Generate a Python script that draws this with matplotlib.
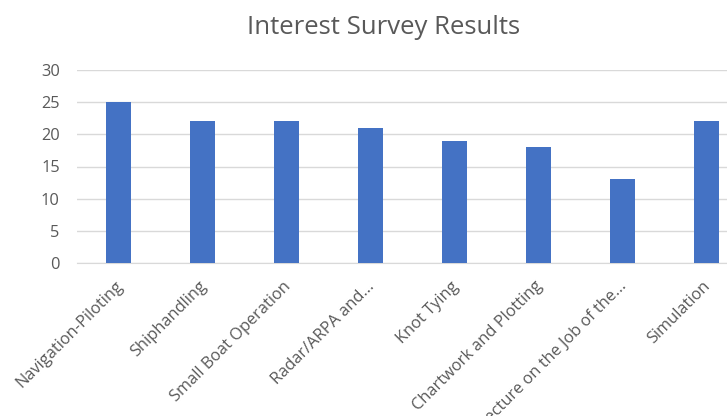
import matplotlib.pyplot as plt
import matplotlib.transforms as mtransforms
import numpy as np

categories = ["Navigation-Piloting", "Shiphandling", "Small Boat Operation",
              "Radar/ARPA and...", "Knot Tying", "Chartwork and Plotting",
              "Lecture on the Job of the...", "Simulation"]
values = [25, 22, 22, 21, 19, 18, 13, 22]
yticks = [0, 5, 10, 15, 20, 25, 30]

plt.rcParams['font.family'] = ['Open Sans', 'DejaVu Sans']

fig = plt.figure(figsize=(7.27, 4.16), dpi=100)
ax = fig.add_axes([76.5 / 727, 153 / 416, 672 / 727, 193 / 416])

x = np.arange(len(categories))
ax.bar(x, values, width=0.3, color="#4472C4", zorder=3)

ax.set_xlim(-0.5, len(categories) - 0.5)
ax.set_ylim(0, 30)
ax.set_yticks(yticks)
ax.grid(axis="y", color="#d9d9d9", linewidth=1, zorder=0)
for s in ["top", "right", "left"]:
    ax.spines[s].set_visible(False)
ax.spines["bottom"].set_color("#d9d9d9")
ax.tick_params(length=0, colors="#595959", labelsize=11.8)
ax.tick_params(axis="y", pad=12)
ax.tick_params(axis="x", pad=11)
ax.set_xticks(x)
ax.set_xticklabels(categories, rotation=45, ha="right", va="top", rotation_mode="anchor")
shift = mtransforms.ScaledTranslation(-4 / 100, 0, fig.dpi_scale_trans)
for lab in ax.get_xticklabels():
    lab.set_transform(lab.get_transform() + shift)

fig.text(384 / 727, 1 - 28 / 416, "Interest Survey Results", ha="center", va="center",
         fontsize=18.5, color="#595959")

fig.savefig("out.png", dpi=100)
